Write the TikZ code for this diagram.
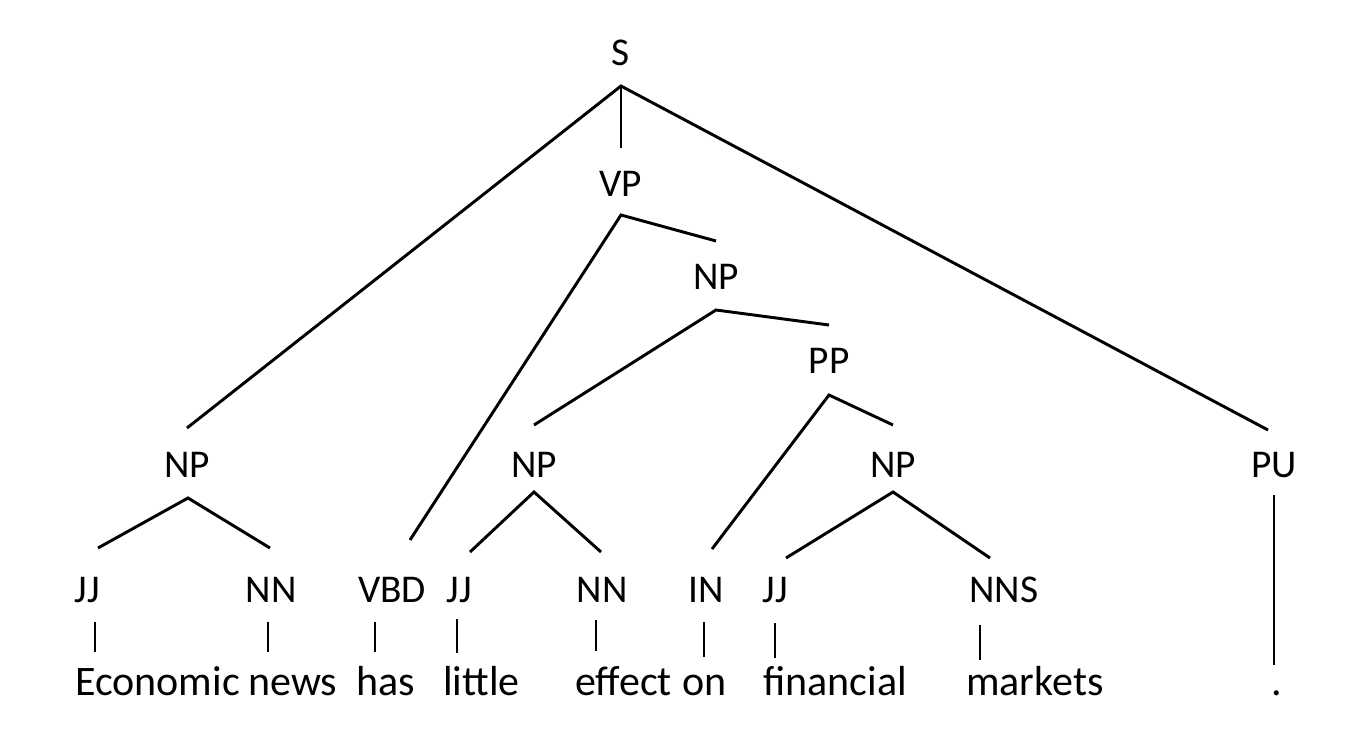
\documentclass[tikz,border=0pt]{standalone}
\usepackage{fontspec}
\setmainfont{Carlito}
\begin{document}
\begin{tikzpicture}[x=0.75pt,y=-0.75pt,
  lab/.style={inner sep=0pt,anchor=base,font=\fontsize{29.5}{34}\selectfont},
  word/.style={inner sep=0pt,anchor=base west,font=\fontsize{31.5}{36}\selectfont},
  edge/.style={line width=2.2pt,line cap=butt}]
\useasboundingbox[fill=white] (0,0) rectangle (1350,740);
% labels
\node[lab] (S) at (621,65) {S};
\node[lab] (VP) at (621,196) {VP};
\node[lab] (NPb) at (716,289) {NP};
\node[lab] (PP) at (829,373) {PP};
\node[lab] (NPa) at (187,477) {NP};
\node[lab] (NPc) at (534,477) {NP};
\node[lab] (NPd) at (893,477) {NP};
\node[lab] (PU) at (1274,477) {PU};
\node[lab] (JJa) at (87,602) {JJ};
\node[lab] (NNa) at (271,602) {NN};
\node[lab] (VBD) at (392,602) {VBD};
\node[lab] (JJb) at (459,602) {JJ};
\node[lab] (NNb) at (602,602) {NN};
\node[lab] (IN) at (706,602) {IN};
\node[lab] (JJc) at (775,602) {JJ};
\node[lab] (NNS) at (1004,602) {NNS};
% words
\node[word] (w1) at (75,695) {Economic};
\node[word] (w2) at (248,695) {news};
\node[word] (w3) at (356,695) {has};
\node[word] (w4) at (443,695) {little};
\node[word] (w5) at (575,695) {effect};
\node[word] (w6) at (682,695) {on};
\node[word] (w7) at (763,695) {financial};
\node[word] (w8) at (966,695) {markets};
\node[word] (w9) at (1271,695) {.};
% connector end points
\coordinate (S-a) at (621,86);
\coordinate (S-l) at (187,428);
\coordinate (S-m) at (621,148);
\coordinate (S-r) at (1268,430);
\coordinate (VP-a) at (621,215);
\coordinate (VP-l) at (410,540);
\coordinate (VP-r) at (716,241);
\coordinate (NPb-a) at (716,310);
\coordinate (NPb-l) at (534,425);
\coordinate (NPb-r) at (829,325);
\coordinate (PP-a) at (829,395);
\coordinate (PP-l) at (712,549);
\coordinate (PP-r) at (893,425);
\coordinate (NPa-a) at (188,498);
\coordinate (NPa-l) at (98,548);
\coordinate (NPa-r) at (270,548);
\coordinate (NPc-a) at (534,492);
\coordinate (NPc-l) at (470,552);
\coordinate (NPc-r) at (601,552);
\coordinate (NPd-a) at (893,492);
\coordinate (NPd-l) at (786,558);
\coordinate (NPd-r) at (990,558);
\coordinate (t1a) at (95,622);   \coordinate (t1b) at (95,652);
\coordinate (t2a) at (268,622);  \coordinate (t2b) at (268,652);
\coordinate (t3a) at (375,622);  \coordinate (t3b) at (375,652);
\coordinate (t4a) at (457,619);  \coordinate (t4b) at (457,653);
\coordinate (t5a) at (596,620);  \coordinate (t5b) at (596,651);
\coordinate (t6a) at (704,622);  \coordinate (t6b) at (704,657);
\coordinate (t7a) at (775,623);  \coordinate (t7b) at (775,658);
\coordinate (t8a) at (980,625);  \coordinate (t8b) at (980,660);
\coordinate (t9a) at (1274,495); \coordinate (t9b) at (1274,665);
% connectors
\draw[edge] (S-l) -- (S-a) -- (S-r);
\draw[edge] (S-a) -- (S-m);
\draw[edge] (VP-l) -- (VP-a) -- (VP-r);
\draw[edge] (NPb-l) -- (NPb-a) -- (NPb-r);
\draw[edge] (PP-l) -- (PP-a) -- (PP-r);
\draw[edge] (NPa-l) -- (NPa-a) -- (NPa-r);
\draw[edge] (NPc-l) -- (NPc-a) -- (NPc-r);
\draw[edge] (NPd-l) -- (NPd-a) -- (NPd-r);
\foreach \i in {1,...,9} {\draw[edge] (t\i a) -- (t\i b);}
\end{tikzpicture}
\end{document}
